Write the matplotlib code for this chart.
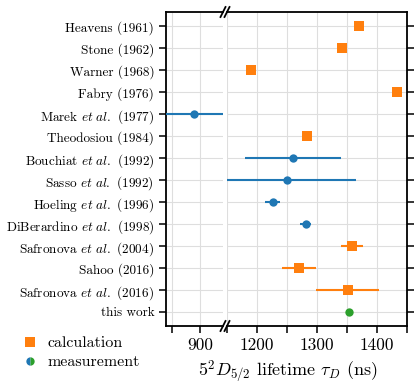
import matplotlib
matplotlib.use("Agg")
import matplotlib.pyplot as plt
import numpy as np
from matplotlib.lines import Line2D

plt.rcParams["font.family"] = "serif"
plt.rcParams["font.serif"] = ["cmr10"]
plt.rcParams["mathtext.fontset"] = "cm"
plt.rcParams["axes.unicode_minus"] = False
plt.rcParams["axes.formatter.use_mathtext"] = True

# ---- data ----
labels = [
    "Heavens (1961)", "Stone (1962)", "Warner (1968)", "Fabry (1976)",
    r"Marek $\mathit{et\ al.}$ (1977)", "Theodosiou (1984)",
    r"Bouchiat $\mathit{et\ al.}$ (1992)", r"Sasso $\mathit{et\ al.}$ (1992)",
    r"Hoeling $\mathit{et\ al.}$ (1996)", r"DiBerardino $\mathit{et\ al.}$ (1998)",
    r"Safronova $\mathit{et\ al.}$ (2004)", "Sahoo (2016)",
    r"Safronova $\mathit{et\ al.}$ (2016)", "this work",
]
lifetime = [1370, 1342, 1190, 1434, 890, 1283, 1260, 1250, 1226, 1281,
            1358, 1270, 1351, 1353]
error = [0, 0, 0, 0, 50, 0, 80, 115, 12, 9, 18, 28, 52, 4]
kind = ["calc", "calc", "calc", "calc", "meas", "calc", "meas", "meas",
        "meas", "meas", "calc", "calc", "calc", "ours"]

STYLE = {
    "calc": dict(color="#ff7f0e", marker="s", ms=6.5),
    "meas": dict(color="#1f77b4", marker="o", ms=6),
    "ours": dict(color="#2ca02c", marker="o", ms=6),
}

left_ticks = [850, 900]
left_labels = ["", "900"]
right_ticks = [1150, 1200, 1250, 1300, 1350, 1400, 1450]
right_labels = ["", "1200", "", "1300", "", "1400", ""]

fig = plt.figure(figsize=(4.15, 3.85), dpi=100)
W, H = 415, 385
bot, top = 326, 12
axL = fig.add_axes([166 / W, 1 - bot / H, 57 / W, (bot - top) / H])
axR = fig.add_axes([227 / W, 1 - bot / H, 180 / W, (bot - top) / H])

y = np.arange(len(labels))
for ax in (axL, axR):
    for yi, v, e, k in zip(y, lifetime, error, kind):
        st = STYLE[k]
        ax.errorbar(v, yi, xerr=e, fmt=st["marker"], color=st["color"],
                    ms=st["ms"], elinewidth=1.5, capsize=0, mew=0, zorder=3)
    ax.set_ylim(len(labels) - 1 + 0.64, -0.64)
    ax.grid(True, color="#dedede", lw=0.8, zorder=0)
    ax.set_axisbelow(True)
    for s in ax.spines.values():
        s.set_linewidth(1.3)
    ax.tick_params(axis="x", direction="out", length=5, width=1.1,
                   labelsize=12.5)
    ax.tick_params(axis="y", direction="out", length=5, width=1.1)

axL.set_xlim(840, 940.6)
axL.set_xticks(left_ticks)
axL.set_xticklabels(left_labels)
axL.set_yticks(y)
axL.set_yticklabels(labels, fontsize=9.5)
axL.spines["right"].set_visible(False)
axL.tick_params(axis="y", right=False)

axR.set_xlim(1150.5, 1450)
axR.set_xticks(right_ticks)
axR.set_xticklabels(right_labels)
axR.set_yticks(y)
axR.spines["left"].set_visible(False)
axR.tick_params(axis="y", left=False, right=True, labelleft=False)

# break marks
d = 5 / H
dx = 2.5 / W
for yy in (1 - top / H, 1 - bot / H):
    for xx in (223 / W, 227 / W):
        fig.add_artist(Line2D([xx - dx, xx + dx], [yy - d, yy + d],
                              color="black", lw=1.3))

fig.text(288 / W, 1 - 372 / H, r"$5^2D_{5/2}$ lifetime $\tau_D$ (ns)",
         ha="center", va="center", fontsize=13)

handles = [
    Line2D([], [], ls="none", marker="s", color="#ff7f0e", ms=6.5, mew=0),
    Line2D([], [], ls="none", marker="o", ms=6, mew=0, fillstyle="left",
           markerfacecolor="#1f77b4", markerfacecoloralt="#2ca02c"),
]
fig.legend(handles, ["calculation", "measurement"], loc="upper left",
           bbox_to_anchor=(22 / W, 1 - 336 / H), frameon=False, fontsize=11.5,
           handlelength=1.0, handletextpad=0.6, labelspacing=0.3,
           borderpad=0, borderaxespad=0)

fig.savefig("out.png", dpi=100)
